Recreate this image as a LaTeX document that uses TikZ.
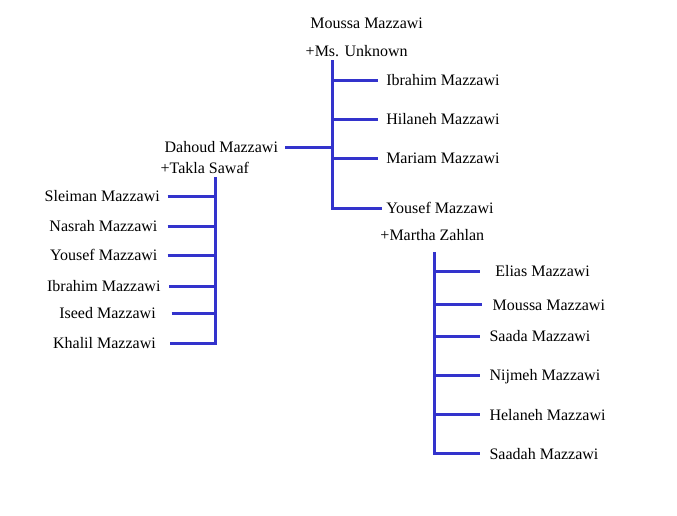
\documentclass[tikz,border=0pt]{standalone}
\usepackage{fontspec}
\setmainfont{Liberation Serif}
\usepackage{xcolor}
\usetikzlibrary{calc}
\definecolor{linkblue}{RGB}{51,51,204}
\tikzset{person/.style={inner sep=0pt,text height=8pt,text depth=0pt,font=\fontsize{12}{14}\selectfont},
  link/.style={draw=linkblue,line width=2.25pt}}

\begin{document}
\begin{tikzpicture}[x=0.75pt,y=-0.75pt]
\useasboundingbox (0,0) rectangle (677,515);
\node[person] (moussa) at (366.7,23) {Moussa Mazzawi}; \node[person] (unknown) at (356.7,51.5) {+Ms. Unknown};
\node[person,anchor=west] (ibrahim) at (386,80) {Ibrahim Mazzawi}; \node[person,anchor=west] (hilaneh) at (386,119) {Hilaneh Mazzawi};
\node[person,anchor=west] (mariam) at (386,158) {Mariam Mazzawi}; \node[person,anchor=west] (yousef) at (386,208.5) {Yousef Mazzawi};
\node[person] (dahoud) at (221.3,147) {Dahoud Mazzawi}; \node[person] (takla) at (204.8,168) {+Takla Sawaf};
\node[person,anchor=east] (sleiman) at (160,196.5) {Sleiman Mazzawi}; \node[person,anchor=east] (nasrah) at (157.7,226) {Nasrah Mazzawi};
\node[person,anchor=east] (yousefd) at (157.7,255.5) {Yousef Mazzawi}; \node[person,anchor=east] (ibrahimd) at (160.7,286) {Ibrahim Mazzawi};
\node[person,anchor=east] (iseed) at (156,313.2) {Iseed Mazzawi}; \node[person,anchor=east] (khalil) at (156,343.2) {Khalil Mazzawi};
\node[person] (martha) at (432.3,235.5) {+Martha Zahlan};
\node[person,anchor=west] (elias) at (495,271.5) {Elias Mazzawi}; \node[person,anchor=west] (moussay) at (492.3,304.8) {Moussa Mazzawi};
\node[person,anchor=west] (saada) at (489.3,336.2) {Saada Mazzawi}; \node[person,anchor=west] (nijmeh) at (489.3,375.5) {Nijmeh Mazzawi};
\node[person,anchor=west] (helaneh) at (489.3,414.8) {Helaneh Mazzawi}; \node[person,anchor=west] (saadah) at (489.3,453.8) {Saadah Mazzawi};
\coordinate (busa) at (332,60); \coordinate (busb) at (215,177); \coordinate (busc) at (434.7,252.3);
\draw[link] (busa) |- ($(yousef.west)+(-4,0)$); \draw[link] ($(dahoud.east)+(7,0)$) -- (busa |- dahoud);
\foreach \c in {ibrahim,hilaneh,mariam} \draw[link] (busa |- \c) -- ($(\c.west)+(-8,0)$);
\draw[link] (busb) |- ($(khalil.east)+(14,0)$);
\foreach \c/\g in {sleiman/7.7,nasrah/10,yousefd/10,ibrahimd/8.3,iseed/15.7} \draw[link] ($(\c.east)+(\g,0)$) -- (busb |- \c);
\draw[link] (busc) |- ($(saadah.west)+(-9.3,0)$);
\foreach \c/\g in {elias/15,moussay/10.6,saada/9.3,nijmeh/9.3,helaneh/9.3} \draw[link] (busc |- \c) -- ($(\c.west)+(-\g,0)$);
\end{tikzpicture}
\end{document}
